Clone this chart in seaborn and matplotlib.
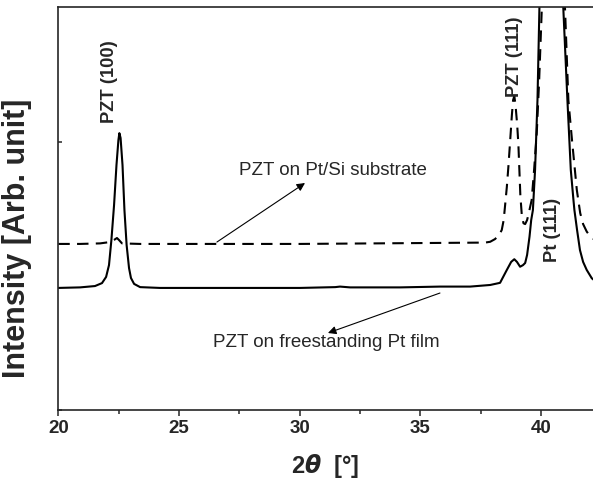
import numpy as np
import pandas as pd
import matplotlib
matplotlib.use("Agg")
import matplotlib.pyplot as plt
import seaborn as sns

# XRD patterns (2theta in degrees, intensity in arb. units)
theta_free = [20.00, 20.90, 21.52, 21.81, 21.98, 22.10, 22.20, 22.31, 22.41, 22.49,
              22.53, 22.58, 22.66, 22.74, 22.83, 22.93, 23.01, 23.14, 23.39, 24.21,
              25.87, 28.36, 30.02, 31.47, 31.67, 32.09, 34.16, 35.81, 37.06, 37.89,
              38.30, 38.58, 38.76, 38.89, 39.00, 39.13, 39.25, 39.34, 39.42, 39.52,
              39.59, 39.66, 39.75, 39.85, 39.93, 40.43, 40.92, 41.09, 41.23, 41.34,
              41.38, 41.49, 41.61, 41.74, 41.89, 42.10, 42.24]
int_free = [455, 457, 462, 473, 496, 540, 634, 764, 913, 1006,
            1032, 1014, 913, 745, 615, 529, 492, 470, 458, 455,
            455, 455, 455, 458, 460, 457, 457, 460, 460, 466,
            474, 522, 552, 562, 552, 534, 540, 548, 578, 646,
            708, 745, 895, 1155, 1498, 4000, 1498, 1155, 895, 783,
            745, 671, 596, 552, 522, 491, 481]

theta_si = [20.00, 20.90, 21.73, 22.14, 22.31, 22.43, 22.51, 22.64, 23.39, 30.00,
            37.68, 37.89, 38.09, 38.26, 38.37, 38.45, 38.51, 38.58, 38.65, 38.72,
            38.79, 38.84, 38.89, 38.94, 39.01, 39.06, 39.10, 39.14, 39.20, 39.27,
            39.34, 39.42, 39.50, 39.61, 39.71, 39.82, 39.92, 40.03, 40.45, 40.99,
            41.13, 41.28, 41.48, 41.62, 41.74, 41.89, 42.03, 42.15, 42.28]
int_si = [619, 619, 621, 626, 634, 641, 634, 621, 619, 619,
          624, 627, 637, 652, 671, 708, 764, 831, 913, 1006,
          1100, 1155, 1170, 1137, 1062, 988, 895, 801, 727, 696,
          693, 708, 738, 783, 895, 1032, 1230, 1498, 4000, 1498,
          1155, 1006, 820, 734, 693, 665, 648, 639, 634]

peak_labels = ["PZT (100)", "PZT (111)", "Pt (111)"]
peak_x = [22.12, 38.88, 40.48]
peak_y = [1070, 1167, 552]

sns.set_style("ticks")
plt.rcParams["font.family"] = ["Liberation Sans", "DejaVu Sans"]
plt.rcParams["mathtext.fontset"] = "custom"
plt.rcParams["mathtext.it"] = "DejaVu Sans:italic:bold"
plt.rcParams["mathtext.rm"] = "Liberation Sans:bold"

df_free = pd.DataFrame({"theta": theta_free, "intensity": int_free})
df_si = pd.DataFrame({"theta": theta_si, "intensity": int_si})

fig = plt.figure(figsize=(5.93, 4.84), dpi=100)
ax = fig.add_axes([58.3 / 593, 74 / 484, 1 - 58.3 / 593, 402.7 / 484])

sns.lineplot(data=df_free, x="theta", y="intensity", ax=ax, color="black",
             lw=1.5, estimator=None, sort=False)
sns.lineplot(data=df_si, x="theta", y="intensity", ax=ax, color="black",
             lw=1.5, estimator=None, sort=False, dashes=False)
ax.lines[1].set_dashes((5.5, 3.5))

for lab, px, py in zip(peak_labels, peak_x, peak_y):
    ax.text(px, py, lab, rotation=90, ha="center", va="bottom",
            fontsize=13.2, fontweight="bold")

ax.annotate("", xy=(30.22, 846), xytext=(26.57, 626),
            arrowprops=dict(arrowstyle="-|>", color="black", lw=0.8,
                            mutation_scale=12, shrinkA=0, shrinkB=0))
ax.text(27.49, 891, "PZT on Pt/Si substrate", ha="left", va="center", fontsize=13.5)

ax.annotate("", xy=(31.17, 287), xytext=(35.81, 436),
            arrowprops=dict(arrowstyle="-|>", color="black", lw=0.8,
                            mutation_scale=12, shrinkA=0, shrinkB=0))
ax.text(26.41, 253, "PZT on freestanding Pt film", ha="left", va="center", fontsize=13.5)

ax.set_xticks([20, 25, 30, 35, 40])
ax.set_xticks([22.5, 27.5, 32.5, 37.5], minor=True)
ax.set_yticks([0, 1000])
ax.set_yticklabels([])
ax.set_xlim(20, 42.15)
ax.set_ylim(0, 1501)
ax.tick_params(axis="x", which="major", direction="out", length=4, width=1.1,
               pad=3, labelsize=13.5)
ax.tick_params(axis="x", which="minor", direction="out", length=3, width=1.1)
ax.tick_params(axis="y", direction="in", length=3, width=1.1)
for t in ax.get_xticklabels():
    t.set_fontweight("bold")

for side in ["left", "bottom", "top"]:
    ax.spines[side].set_linewidth(1.2)
ax.spines["right"].set_visible(False)

ax.set_xlabel(r"$\mathrm{2}\mathit{\theta}$  [°]", fontsize=17, fontweight="bold", va="center")
ax.xaxis.set_label_coords(0.5, -0.139)
ax.set_ylabel("Intensity [Arb. unit]", fontsize=22, fontweight="bold", va="center")
ax.yaxis.set_label_coords(-0.0772, 0.427)

fig.savefig("out.png", dpi=100)
